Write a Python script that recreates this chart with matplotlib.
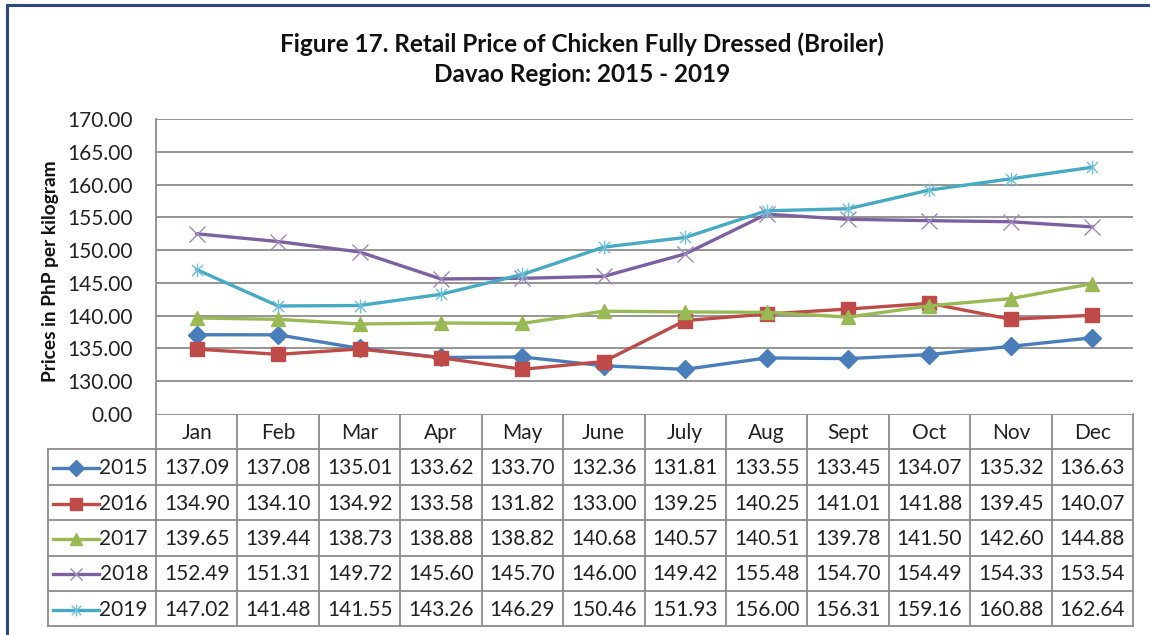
import numpy as np
import matplotlib
matplotlib.use("Agg")
import matplotlib.pyplot as plt
from matplotlib.path import Path

plt.rcParams["font.family"] = ["Lato", "DejaVu Sans"]

months = ["Jan", "Feb", "Mar", "Apr", "May", "June", "July", "Aug", "Sept", "Oct", "Nov", "Dec"]
years = ["2015", "2016", "2017", "2018", "2019"]

p2015 = [137.09, 137.08, 135.01, 133.62, 133.70, 132.36, 131.81, 133.55, 133.45, 134.07, 135.32, 136.63]
p2016 = [134.90, 134.10, 134.92, 133.58, 131.82, 133.00, 139.25, 140.25, 141.01, 141.88, 139.45, 140.07]
p2017 = [139.65, 139.44, 138.73, 138.88, 138.82, 140.68, 140.57, 140.51, 139.78, 141.50, 142.60, 144.88]
p2018 = [152.49, 151.31, 149.72, 145.60, 145.70, 146.00, 149.42, 155.48, 154.70, 154.49, 154.33, 153.54]
p2019 = [147.02, 141.48, 141.55, 143.26, 146.29, 150.46, 151.93, 156.00, 156.31, 159.16, 160.88, 162.64]

series = [p2015, p2016, p2017, p2018, p2019]

yticks = [125, 130, 135, 140, 145, 150, 155, 160, 165, 170]
ytick_labels = ["0.00", "130.00", "135.00", "140.00", "145.00", "150.00",
                "155.00", "160.00", "165.00", "170.00"]

# Excel-like star marker: x plus vertical bar
star = Path([(-1, -1), (1, 1), (-1, 1), (1, -1), (0, -1.25), (0, 1.25)],
            [Path.MOVETO, Path.LINETO, Path.MOVETO, Path.LINETO, Path.MOVETO, Path.LINETO])

styles = [
    dict(color="#4A7EBB", marker="D", ms=9, mfc="#4A7EBB", mec="#4A7EBB", mew=1),
    dict(color="#BE4B48", marker="s", ms=10.5, mfc="#BE4B48", mec="#BE4B48", mew=1),
    dict(color="#98B954", marker="^", ms=10.5, mfc="#98B954", mec="#98B954", mew=1),
    dict(color="#7D60A0", marker="x", ms=11, mfc="none", mec="#9F8AC0", mew=1.0),
    dict(color="#46AAC5", marker=star, ms=10, mfc="none", mec="#6FC0D6", mew=1.0),
]

W, H = 1150, 635
fig = plt.figure(figsize=(W / 100, H / 100), dpi=100)

# pixel geometry
left, right, top, axbot = 156, 1133, 119, 414
row_h = 35.4
tab_left = 48
n_rows = len(years)
tab_bot = axbot + row_h * (n_rows + 1)

ax = fig.add_axes([left / W, 1 - axbot / H, (right - left) / W, (axbot - top) / H])
x = np.arange(len(months)) + 0.5
for vals, st in zip(series, styles):
    ax.plot(x, vals, lw=2.4, solid_joinstyle="round", zorder=3, **st)

ax.set_xlim(0, len(months))
ax.set_ylim(125, 170)
ax.set_yticks(yticks)
ax.set_yticklabels(ytick_labels, fontsize=15, color="#222222")
ax.set_xticks([])
ax.tick_params(axis="y", length=0, pad=17)
for y in yticks[1:]:
    ax.axhline(y, color="#8C8C8C", lw=1.3, zorder=1)
for s in ["top", "right", "bottom"]:
    ax.spines[s].set_visible(False)
ax.spines["left"].set_color("#8C8C8C")
ax.spines["left"].set_linewidth(1.3)

# overlay in pixel coordinates for the data table and frame
ov = fig.add_axes([0, 0, 1, 1], zorder=-1)
ov.set_xlim(0, W)
ov.set_ylim(H, 0)
ov.axis("off")

ov.text(51, 271, "Prices in PhP per kilogram", rotation=90, ha="center", va="center",
        fontsize=13.8, fontweight="bold", color="#111111")

gc = "#8C8C8C"
col_w = (right - left) / len(months)
# header top line and vertical lines
ov.plot([left, right], [axbot, axbot], color=gc, lw=1.3)
for k in range(len(months) + 1):
    xx = left + k * col_w
    ov.plot([xx, xx], [axbot, tab_bot], color=gc, lw=1.3)
for r in range(n_rows + 1):
    yy = axbot + row_h * (r + 1)
    ov.plot([tab_left, right], [yy, yy], color=gc, lw=1.3)
ov.plot([tab_left, tab_left], [axbot + row_h, tab_bot], color=gc, lw=1.3)

for k, m in enumerate(months):
    ov.text(left + (k + 0.5) * col_w, axbot + row_h / 2 + 1, m, ha="center", va="center",
            fontsize=15, color="#222222")

for r, (yr, vals, st) in enumerate(zip(years, series, styles)):
    yc = axbot + row_h * (r + 1.5) + 1
    ov.plot([53, 99], [yc, yc], color=st["color"], lw=2.4)
    ov.plot([76], [yc], ls="none", marker=st["marker"], ms=st["ms"] * 0.85,
            mfc=st["mfc"], mec=st["mec"], mew=st["mew"])
    ov.text(148, yc, yr, ha="right", va="center", fontsize=15, color="#222222")
    for k, v in enumerate(vals):
        ov.text(left + (k + 0.5) * col_w, yc, f"{v:.2f}", ha="center", va="center",
                fontsize=15, color="#222222")

# titles
ov.text(582, 44, "Figure 17. Retail Price of Chicken Fully Dressed (Broiler)", ha="center",
        va="center", fontsize=17.5, fontweight="bold", color="#111111")
ov.text(582, 74, "Davao Region: 2015 - 2019", ha="center", va="center",
        fontsize=17.5, fontweight="bold", color="#111111")

# outer chart frame (only top and left visible)
ov.plot([7, W], [5, 5], color="#2E4A7D", lw=2.2)
ov.plot([7, 7], [5, H], color="#2E4A7D", lw=2.2)

fig.savefig("out.png", dpi=100)
